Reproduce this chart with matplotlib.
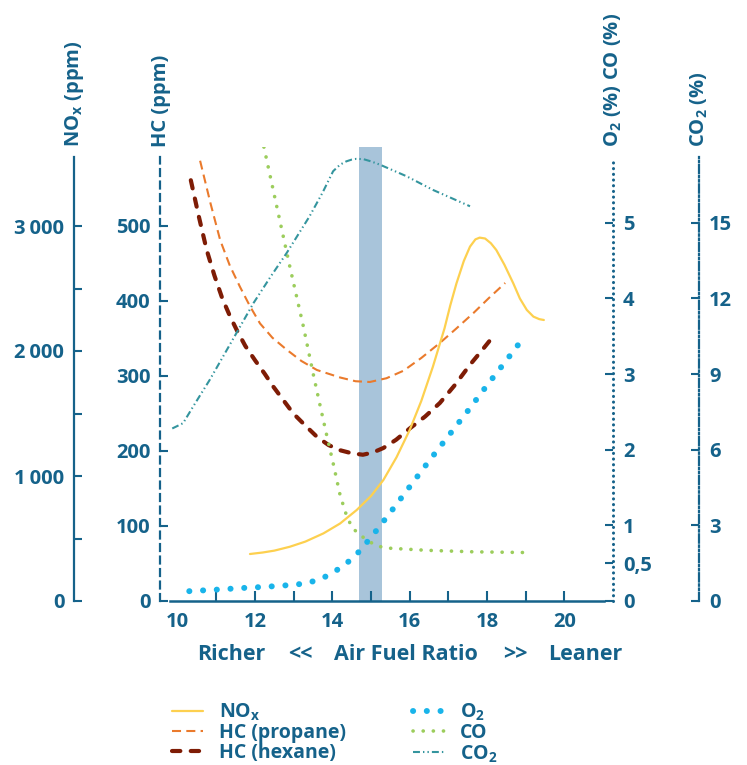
import matplotlib
matplotlib.use("Agg")
import matplotlib.pyplot as plt
from matplotlib.ticker import FixedLocator

plt.rcParams['font.family'] = ['Open Sans', 'DejaVu Sans']
plt.rcParams['font.weight'] = 'bold'
plt.rcParams['mathtext.default'] = 'regular'
plt.rcParams['lines.scale_dashes'] = False

BLUE = '#15628a'

# --- data ---
nox_x = [11.87, 12.2, 12.5, 12.9, 13.3, 13.77, 14.2, 14.63, 15.0, 15.32, 15.66, 16.0,
         16.3, 16.6, 16.9, 17.05, 17.21, 17.4, 17.56, 17.7, 17.81, 17.95, 18.1, 18.24,
         18.45, 18.68, 18.85, 19.03, 19.2, 19.35, 19.47]
nox_y = [376, 388, 403, 434, 475, 541, 620, 728, 840, 968, 1150, 1368,
         1600, 1874, 2180, 2365, 2541, 2720, 2835, 2893, 2907, 2900, 2862, 2808,
         2690, 2541, 2420, 2328, 2275, 2255, 2248]

hc_prop_x = [10.58, 10.85, 11.1, 11.35, 11.61, 11.87, 12.13, 12.45, 12.82, 13.2, 13.6,
             14.2, 14.6, 14.97, 15.4, 15.84, 16.3, 16.78, 17.2, 17.65, 18.05, 18.47]
hc_prop_y = [587, 530, 481, 447, 419, 393, 370, 351, 335, 320, 308,
             298, 293, 292, 297, 307, 324, 344, 363, 384, 404, 424]

hc_hex_x = [10.34, 10.55, 10.75, 10.95, 11.15, 11.35, 11.53, 11.75, 12.0, 12.25, 12.47,
            12.73, 12.99, 13.3, 13.6, 13.9, 14.2, 14.5, 14.79, 15.05, 15.32, 15.65,
            16.0, 16.4, 16.78, 17.17, 17.56, 17.85, 18.1]
hc_hex_y = [561, 512, 468, 434, 404, 380, 361, 340, 321, 303, 286,
            268, 250, 234, 219, 208, 201, 197, 195, 198, 204, 215,
            230, 246, 264, 288, 315, 333, 349]

o2_x = [10.3, 11.0, 11.6, 12.0, 12.65, 13.3, 13.7, 14.0, 14.3, 14.6, 15.0, 15.5,
        16.0, 16.5, 17.0, 17.5, 18.0, 18.5, 18.93]
o2_y = [0.13, 0.15, 0.17, 0.18, 0.2, 0.23, 0.29, 0.37, 0.47, 0.6, 0.84, 1.17,
        1.51, 1.85, 2.18, 2.51, 2.85, 3.18, 3.47]

co_x = [12.23, 12.56, 12.9, 13.25, 13.51, 13.68, 13.85, 14.03, 14.2, 14.36, 14.5, 14.65,
        14.88, 15.14, 15.4, 16.44, 17.65, 19.07]
co_y = [6.0, 5.22, 4.42, 3.63, 2.99, 2.59, 2.2, 1.8, 1.4, 1.14, 0.98, 0.9,
        0.81, 0.73, 0.70, 0.67, 0.65, 0.64]

co2_x = [9.86, 10.14, 10.4, 10.83, 11.4, 11.96, 12.4, 12.82, 13.41, 13.75, 14.02, 14.2,
         14.36, 14.5, 14.62, 14.8, 15.0, 15.23, 15.92, 16.6, 17.56]
co2_y = [6.84, 7.05, 7.71, 8.77, 10.3, 11.81, 12.85, 13.8, 15.25, 16.2, 17.04, 17.3,
         17.43, 17.5, 17.53, 17.52, 17.43, 17.3, 16.84, 16.3, 15.65]

stoich_lo, stoich_hi = 14.68, 15.29

nox_ticks = [0, 1000, 2000, 3000]
nox_labels = ['0', '1\u2009000', '2\u2009000', '3\u2009000']
hc_ticks = [0, 100, 200, 300, 400, 500]
o2_ticks = [0, 0.5, 1, 2, 3, 4, 5]
o2_labels = ['0', '0,5', '1', '2', '3', '4', '5']
co2_ticks = [0, 3, 6, 9, 12, 15]
x_ticks = [10, 12, 14, 16, 18, 20]

# --- figure ---
W, H = 747, 765
fig = plt.figure(figsize=(W / 100, H / 100), dpi=100)
L, R, B, T = 160, 613.3, 601, 147
ax = fig.add_axes([L / W, 1 - B / H, (R - L) / W, (B - T) / H])
ax.set_xlim(9.543, 21.266)
ax.set_ylim(0, 605.3)

TICK_FS = 14.5


def style_axis(a, side, ticks, labels, ls, bound):
    for s in ['top', 'bottom', 'left', 'right']:
        a.spines[s].set_visible(s == side)
    sp = a.spines[side]
    sp.set_color(BLUE)
    sp.set_linewidth(1.6)
    sp.set_linestyle(ls)
    sp.set_bounds(0, bound)
    a.yaxis.set_ticks_position(side)
    a.set_yticks(ticks)
    a.set_yticklabels(labels)
    a.tick_params(axis='y', which='both', direction='in', length=6, width=1.5,
                  color=BLUE, labelcolor=BLUE, labelsize=TICK_FS, pad=7)


# HC axis on main ax
style_axis(ax, 'left', hc_ticks, [str(t) for t in hc_ticks], (0, (5, 4)), 592)
ax.spines['bottom'].set_visible(True)
ax.spines['bottom'].set_color(BLUE)
ax.spines['bottom'].set_linewidth(1.8)
ax.spines['bottom'].set_bounds(9.8, 21.03)
ax.set_xticks(x_ticks)
ax.set_xticklabels([str(t) for t in x_ticks])
ax.xaxis.set_minor_locator(FixedLocator([11, 13, 15, 17, 19]))
ax.tick_params(axis='x', which='both', direction='in', length=7, width=1.5,
               color=BLUE, labelcolor=BLUE, labelsize=TICK_FS, pad=8)
ax.xaxis.get_major_ticks()[0].tick1line.set_visible(False)

# NOx axis
ax_nox = ax.twinx()
ax_nox.set_ylim(0, 3632)
style_axis(ax_nox, 'left', nox_ticks, nox_labels, '-', 3552)
ax_nox.spines['left'].set_position(('axes', (74 - L) / (R - L)))
ax_nox.yaxis.set_minor_locator(FixedLocator([500, 1500, 2500]))

# O2 / CO axis
ax_o2 = ax.twinx()
ax_o2.set_ylim(0, 6.0)
style_axis(ax_o2, 'right', o2_ticks, o2_labels, (0, (0.1, 4)), 5.87)
ax_o2.spines['right'].set_capstyle('round')
ax_o2.spines['right'].set_linewidth(2.2)

# CO2 axis
ax_co2 = ax.twinx()
ax_co2.set_ylim(0, 18.0)
style_axis(ax_co2, 'right', co2_ticks, [str(t) for t in co2_ticks],
           (0, (6, 2, 1, 2, 1, 2)), 17.6)
ax_co2.spines['right'].set_position(('axes', (699.3 - L) / (R - L)))

# stoichiometric band
ax.axvspan(stoich_lo, stoich_hi, color='#a8c4da', lw=0, zorder=0)

# curves
l_nox, = ax_nox.plot(nox_x, nox_y, color='#fdd04f', lw=1.6, label=r'NO$_x$',
                     solid_capstyle='round', solid_joinstyle='round')
l_prop, = ax.plot(hc_prop_x, hc_prop_y, color='#ea7a2c', lw=1.5,
                  dashes=(6.5, 3.8), label='HC (propane)')
l_hex, = ax.plot(hc_hex_x, hc_hex_y, color='#7e1c05', lw=3.0, dashes=(6, 7.5),
                 dash_capstyle='round', label='HC (hexane)')
l_o2, = ax_o2.plot(o2_x, o2_y, color='#19b4ea', lw=4.3, dashes=(0.1, 9.8),
                   dash_capstyle='round', label=r'O$_2$')
l_co, = ax_o2.plot(co_x, co_y, color='#9ccd5c', lw=2.6, dashes=(0.1, 7.2),
                   dash_capstyle='round', label='CO')
l_co2, = ax_co2.plot(co2_x, co2_y, color='#34959e', lw=1.5,
                     dashes=(5, 2.2, 1, 2.2, 1, 2.2), label=r'CO$_2$')

# axis titles (rotated, above each spine)
title_kw = dict(rotation=90, ha='center', va='bottom', color=BLUE, fontsize=14.5,
                fontweight='bold')
fig.text(74 / W, 1 - 147 / H, r'NO$_x$ (ppm)', **title_kw)
fig.text(161 / W, 1 - 147 / H, 'HC (ppm)', **title_kw)
fig.text(613 / W, 1 - 147 / H, r'O$_2$ (%) CO (%)', **title_kw)
fig.text(699 / W, 1 - 147 / H, r'CO$_2$ (%)', **title_kw)

# x axis caption
cap_y = 1 - 655 / H
for txt, xc in [('Richer', 231), ('<<', 300), ('Air Fuel Ratio', 406), ('>>', 515),
                ('Leaner', 585)]:
    fig.text(xc / W, cap_y, txt, ha='center', va='center', color=BLUE, fontsize=15.5,
             fontweight='bold')

# legends
leg_kw = dict(loc='upper left', frameon=False, fontsize=14, handlelength=1.6,
              handletextpad=0.8, labelspacing=0.0, borderpad=0, borderaxespad=0,
              labelcolor=BLUE)
fig.legend([l_nox, l_prop, l_hex], [l.get_label() for l in (l_nox, l_prop, l_hex)],
           bbox_to_anchor=(172 / W, 1 - 702 / H), **leg_kw)
fig.legend([l_o2, l_co, l_co2], [l.get_label() for l in (l_o2, l_co, l_co2)],
           bbox_to_anchor=(413 / W, 1 - 702 / H), **leg_kw)

fig.savefig('out.png', dpi=100)
